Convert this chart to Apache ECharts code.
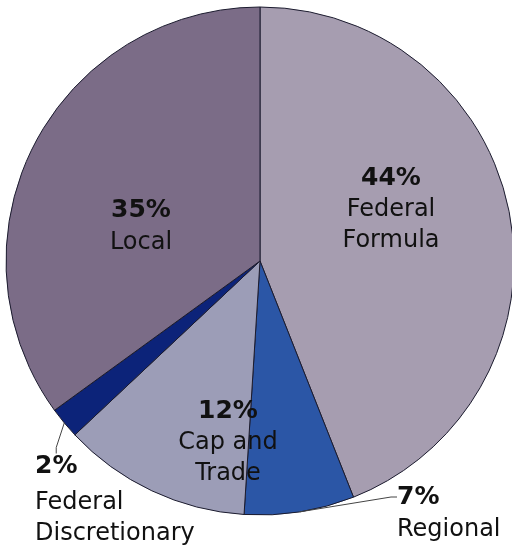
<!DOCTYPE html>
<html>
<head>
<meta charset="utf-8">
<script src="https://cdn.jsdelivr.net/npm/echarts@6/dist/echarts.min.js"></script>
<style>
  html, body { margin: 0; padding: 0; background: #ffffff; }
  #chart { width: 512px; height: 550px; }
</style>
</head>
<body>
<div id="chart"></div>
<script>
// Funding sources, clockwise from 12 o'clock
const categories = ['Federal Formula', 'Regional', 'Cap and Trade', 'Federal Discretionary', 'Local'];
const shares = [44, 7, 12, 2, 35];
const labelLines = [['Federal', 'Formula'], ['Regional'], ['Cap and', 'Trade'], ['Federal', 'Discretionary'], ['Local']];
const colors = ['#a69db0', '#2b56a6', '#9c9db7', '#0c2379', '#7b6c87'];

// Small slices are labelled outside: the percentage carries the leader line,
// the name sits underneath it
const outside = [false, true, false, true, false];

// Label anchor per slice (percentage block / whole block for inside labels)
const labelSpots = [
  { x: 391, y: 209, align: 'center' },
  { x: 397, y: 497, align: 'left' },
  { x: 228, y: 442, align: 'center' },
  { x: 35,  y: 466, align: 'left' },
  { x: 141, y: 226, align: 'center' }
];
// Name blocks for the outside-labelled slices
const nameSpots = [null, { x: 397, y: 530 }, null, { x: 35, y: 518 }, null];

const FONT = 'DejaVu Sans';
const richFor = align => ({
  p: { fontFamily: FONT, fontWeight: 'bold', fontSize: 25, lineHeight: 33, color: '#111111', align: align },
  n: { fontFamily: FONT, fontSize: 24, lineHeight: 31, color: '#111111', align: align }
});
const nameText = i => labelLines[i].map(t => '{n|' + t + '}').join('\n');

const chart = echarts.init(document.getElementById('chart'), null, { renderer: 'canvas' });

const mainData = categories.map((name, i) => ({
  name: name,
  value: shares[i],
  itemStyle: { color: colors[i] },
  label: {
    position: outside[i] ? 'outside' : 'inside',
    align: labelSpots[i].align,
    formatter: outside[i] ? '{p|' + shares[i] + '%}' : '{p|' + shares[i] + '%}\n' + nameText(i),
    rich: richFor(labelSpots[i].align)
  },
  labelLine: { show: outside[i] }
}));

const nameData = categories.map((name, i) => ({
  name: name,
  value: shares[i],
  label: {
    show: outside[i],
    position: 'outside',
    align: 'left',
    formatter: nameText(i),
    rich: richFor('left')
  },
  labelLine: { show: false }
}));

const common = {
  type: 'pie',
  center: [260, 261],
  radius: [0, 254],
  startAngle: 90,
  clockwise: true,
  avoidLabelOverlap: false,
  emphasis: { disabled: true }
};

chart.setOption({
  animation: false,
  series: [
    Object.assign({}, common, {
      name: 'names',
      silent: true,
      itemStyle: { color: 'rgba(0,0,0,0)', borderWidth: 0 },
      labelLayout: function (params) {
        const s = nameSpots[params.dataIndex];
        return s ? { x: s.x, y: s.y, align: 'left', verticalAlign: 'middle' } : {};
      },
      data: nameData
    }),
    Object.assign({}, common, {
      name: 'shares',
      itemStyle: { borderColor: '#1b1b2e', borderWidth: 1 },
      label: { show: true },
      labelLine: {
        show: false, showAbove: true, length: 8, length2: 6,
        minTurnAngle: 0, maxSurfaceAngle: 180,
        lineStyle: { color: '#444444', width: 1 }
      },
      labelLayout: function (params) {
        const s = labelSpots[params.dataIndex];
        return { x: s.x, y: s.y, align: s.align, verticalAlign: 'middle' };
      },
      data: mainData
    })
  ]
});
</script>
</body>
</html>
